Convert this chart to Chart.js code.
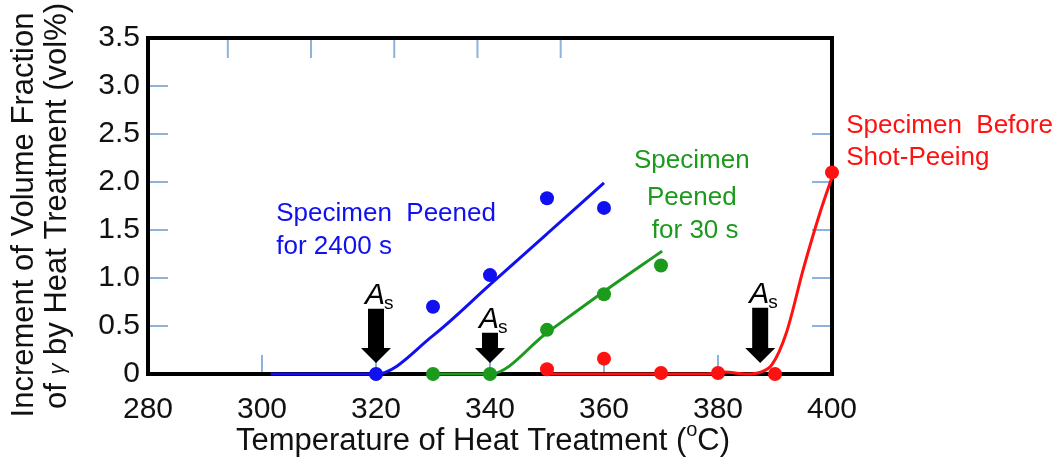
<!DOCTYPE html>
<html>
<head>
<meta charset="utf-8">
<script src="https://cdn.jsdelivr.net/npm/chart.js@4/dist/chart.umd.min.js"></script>
<style>
  html, body { margin: 0; padding: 0; background: #fff; }
  #wrap { width: 1061px; height: 457px; position: relative; }
</style>
</head>
<body>
<div id="wrap"><canvas id="chart"></canvas></div>
<script>
// measured points
const blueX = [320, 330, 340, 350, 360];
const blueY = [0, 0.70, 1.03, 1.83, 1.73];
const greenX = [330, 340, 350, 360, 370];
const greenY = [0, 0, 0.46, 0.83, 1.13];
const redX = [350, 360, 370, 380, 390, 400];
const redY = [0.05, 0.16, 0.01, 0.01, 0, 2.10];

// fitted curves
const blueFitX = [301.5, 320, 330, 340, 350, 360];
const blueFitY = [0, 0, 0.40, 0.93, 1.46, 1.99];
const greenFitX = [330, 340, 350, 360, 370.2];
const greenFitY = [0, 0, 0.43, 0.86, 1.28];
const redFitX = [350, 378, 381, 385, 387.5, 389.5, 392, 395, 398, 400];
const redFitY = [0, 0, 0.02, 0, 0.02, 0.10, 0.43, 1.10, 1.70, 2.05];

// As arrows (temperature, top of shaft, tip)
const arrowX = [320, 340, 387.4];
const arrowTop = [0.68, 0.43, 0.69];
const arrowTip = 0.115;

const xTicks = [280, 300, 320, 340, 360, 380, 400];
const yTicks = [0, 0.5, 1.0, 1.5, 2.0, 2.5, 3.0, 3.5];
const topTicks = [294, 308.6, 323.2, 337.8, 352.4];

const BLUE = '#1010f0';
const GREEN = '#1c9a1c';
const RED = '#ff1111';
const TICK = '#8db3dc';
const FONT = '"Liberation Sans", Arial, sans-serif';

const pts = (xs, ys) => xs.map((x, i) => ({ x, y: ys[i] }));

function line(label, xs, ys, color) {
  return {
    label, data: pts(xs, ys), showLine: true, borderColor: color, borderWidth: 3,
    pointRadius: 0, cubicInterpolationMode: 'monotone', clip: false, order: 2,
  };
}
function dots(label, xs, ys, color) {
  return {
    label, data: pts(xs, ys), showLine: false, backgroundColor: color, borderColor: color,
    pointRadius: 7, borderWidth: 0, clip: false, order: 1,
  };
}

const decor = {
  id: 'decor',
  beforeDatasetsDraw(chart) {
    const { ctx, chartArea: a, scales: { x, y } } = chart;
    ctx.save();
    ctx.strokeStyle = TICK;
    ctx.lineWidth = 2;
    ctx.beginPath();
    yTicks.slice(1, -1).forEach(v => {
      const py = y.getPixelForValue(v);
      ctx.moveTo(a.left, py); ctx.lineTo(a.left + 20, py);
      if (v <= 2.5) { ctx.moveTo(a.right, py); ctx.lineTo(a.right - 20, py); }
    });
    xTicks.slice(1, -1).forEach(v => {
      const px = x.getPixelForValue(v);
      ctx.moveTo(px, a.bottom); ctx.lineTo(px, a.bottom - 19);
    });
    topTicks.forEach(v => {
      const px = x.getPixelForValue(v);
      ctx.moveTo(px, a.top); ctx.lineTo(px, a.top + 20);
    });
    ctx.stroke();
    ctx.strokeStyle = '#000';
    ctx.lineWidth = 4;
    ctx.strokeRect(a.left, a.top, a.right - a.left, a.bottom - a.top);

    // arrows
    ctx.fillStyle = '#000';
    arrowX.forEach((v, i) => {
      const cx = x.getPixelForValue(v);
      const top = y.getPixelForValue(arrowTop[i]);
      const tip = y.getPixelForValue(arrowTip);
      const headStart = tip - 15;
      ctx.beginPath();
      ctx.moveTo(cx - 8, top);
      ctx.lineTo(cx + 8, top);
      ctx.lineTo(cx + 8, headStart);
      ctx.lineTo(cx + 15, headStart);
      ctx.lineTo(cx, tip);
      ctx.lineTo(cx - 15, headStart);
      ctx.lineTo(cx - 8, headStart);
      ctx.closePath();
      ctx.fill();
      ctx.font = 'italic 30px ' + FONT;
      ctx.textAlign = 'left';
      ctx.textBaseline = 'alphabetic';
      ctx.fillText('A', cx - 11, top - 5);
      const w = ctx.measureText('A').width;
      ctx.font = '19px ' + FONT;
      ctx.fillText('s', cx - 11 + w - 1, top);
    });
    ctx.restore();
  },
  afterDraw(chart) {
    const { ctx, scales: { x, y } } = chart;
    ctx.save();
    ctx.textBaseline = 'alphabetic';
    ctx.font = '26px ' + FONT;
    const text = (s, vx, vy, color, align) => {
      ctx.fillStyle = color;
      ctx.textAlign = align;
      ctx.fillText(s, x.getPixelForValue(vx), y.getPixelForValue(vy));
    };
    text('Specimen  Peened', 302.5, 1.594, BLUE, 'left');
    text('for 2400 s', 302.5, 1.25, BLUE, 'left');
    text('Specimen', 375.4, 2.146, GREEN, 'center');
    text('Peened', 375.4, 1.76, GREEN, 'center');
    text('for 30 s', 376, 1.417, GREEN, 'center');
    text('Specimen  Before', 402.5, 2.51, RED, 'left');
    text('Shot-Peeing', 402.5, 2.18, RED, 'left');

    // x title with superscript o
    ctx.fillStyle = '#111';
    ctx.font = '31px ' + FONT;
    ctx.textAlign = 'left';
    const t1 = 'Temperature of Heat Treatment (';
    const w1 = ctx.measureText(t1).width;
    ctx.font = '20px ' + FONT;
    const w2 = ctx.measureText('o').width;
    ctx.font = '31px ' + FONT;
    const w3 = ctx.measureText('C)').width;
    let sx = 483 - (w1 + w2 + w3) / 2;
    ctx.fillText(t1, sx, 450);
    ctx.font = '20px ' + FONT;
    ctx.fillText('o', sx + w1, 436);
    ctx.font = '31px ' + FONT;
    ctx.fillText('C)', sx + w1 + w2, 450);

    // y title, two rotated lines
    ctx.save();
    ctx.translate(33, 215);
    ctx.rotate(-Math.PI / 2);
    ctx.textAlign = 'center';
    ctx.font = '31px ' + FONT;
    ctx.fillText('Increment of Volume Fraction', 0, 0);
    ctx.restore();
    ctx.save();
    ctx.translate(66, 206);
    ctx.rotate(-Math.PI / 2);
    ctx.textAlign = 'left';
    const a1 = 'of ', a2 = 'γ', a3 = ' by Heat Treatment (vol%)';
    ctx.font = '31px ' + FONT;
    const l1 = ctx.measureText(a1).width, l3 = ctx.measureText(a3).width;
    ctx.font = 'italic 22px ' + FONT;
    const l2 = ctx.measureText(a2).width;
    let ox = -(l1 + l2 + l3) / 2;
    ctx.font = '31px ' + FONT;
    ctx.fillText(a1, ox, 0);
    ctx.font = 'italic 22px ' + FONT;
    ctx.fillText(a2, ox + l1, -2);
    ctx.font = '31px ' + FONT;
    ctx.fillText(a3, ox + l1 + l2, 0);
    ctx.restore();
    ctx.restore();
  },
};

new Chart(document.getElementById('chart'), {
  type: 'scatter',
  data: {
    datasets: [
      line('Peened 2400 s fit', blueFitX, blueFitY, BLUE),
      line('Peened 30 s fit', greenFitX, greenFitY, GREEN),
      line('Before peening fit', redFitX, redFitY, RED),
      dots('Peened 2400 s', blueX, blueY, BLUE),
      dots('Peened 30 s', greenX, greenY, GREEN),
      dots('Before peening', redX, redY, RED),
    ],
  },
  options: {
    responsive: true,
    maintainAspectRatio: false,
    animation: false,
    layout: { padding: { left: 0, top: 38, right: 229, bottom: 0 } },
    plugins: { legend: { display: false }, tooltip: { enabled: false } },
    scales: {
      x: {
        type: 'linear', min: 280, max: 400,
        afterBuildTicks: s => { s.ticks = xTicks.map(v => ({ value: v })); },
        afterFit: s => { s.height = 83; },
        grid: { display: false, drawTicks: false },
        border: { display: false },
        ticks: { color: '#111', padding: 18, font: { family: FONT, size: 30 }, maxRotation: 0 },
      },
      y: {
        type: 'linear', min: 0, max: 3.5,
        afterBuildTicks: s => { s.ticks = yTicks.map(v => ({ value: v })); },
        afterFit: s => { s.width = 148; },
        grid: { display: false, drawTicks: false },
        border: { display: false },
        ticks: {
          color: '#111', padding: 8, font: { family: FONT, size: 30 },
          callback: v => (v === 0 ? '0' : v.toFixed(1)),
        },
      },
    },
  },
  plugins: [decor],
});
</script>
</body>
</html>
